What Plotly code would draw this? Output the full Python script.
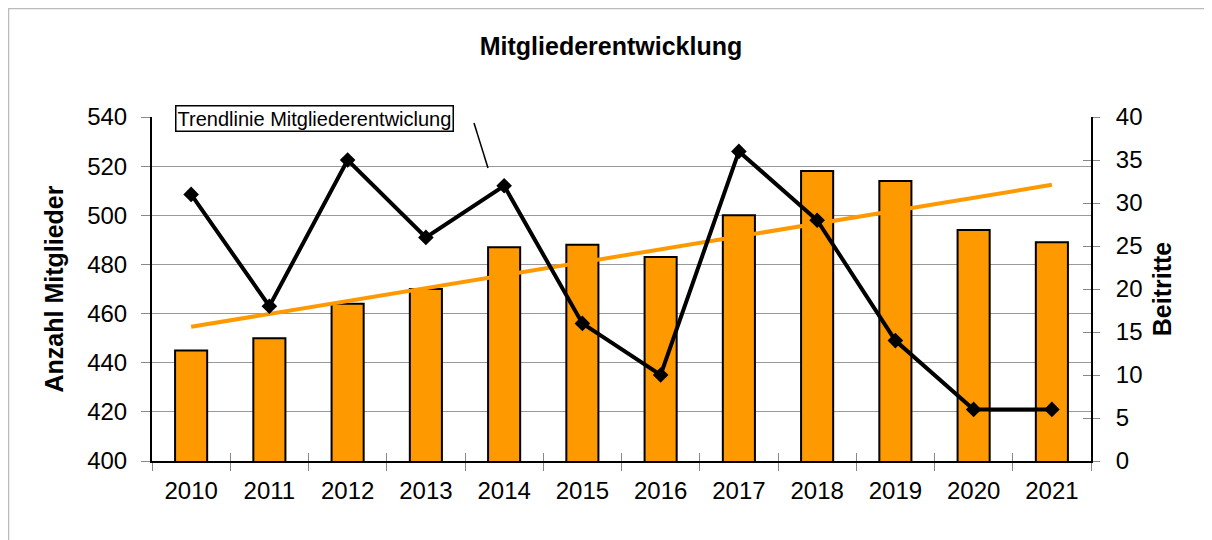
import plotly.graph_objects as go

years = ["2010", "2011", "2012", "2013", "2014", "2015", "2016", "2017", "2018", "2019", "2020", "2021"]
mitglieder = [445, 450, 464, 470, 487, 488, 483, 500, 518, 514, 494, 489]
beitritte = [31, 18, 35, 26, 32, 16, 10, 36, 28, 14, 6, 6]
trend_years = ["2010", "2021"]
trend_values = [454.6, 512.4]

left_ticks = [400, 420, 440, 460, 480, 500, 520, 540]
right_ticks = [0, 5, 10, 15, 20, 25, 30, 35, 40]

OFF = 8  # page body margin
W, H = 1212, 540
L, R, T, B = 152 - OFF, 1091 - OFF, 117 - OFF, 461 - OFF

def px(x):
    return (x - OFF - L) / (R - L)

def py(y):
    return (B - (y - OFF)) / (B - T)

fig = go.Figure()
fig.add_trace(go.Bar(
    x=years, y=mitglieder, name="Mitglieder",
    marker=dict(color="#FF9900", line=dict(color="black", width=2)),
    width=0.41, yaxis="y",
))
fig.add_trace(go.Scatter(
    x=trend_years, y=trend_values, mode="lines", name="Trend",
    line=dict(color="#FF9900", width=4), yaxis="y",
))
fig.add_trace(go.Scatter(
    x=years, y=beitritte, mode="lines+markers", name="Beitritte",
    line=dict(color="black", width=4),
    marker=dict(symbol="diamond", size=12, color="black"),
    yaxis="y2",
))
# helper trace so the inner-tick axes get drawn
fig.add_trace(go.Scatter(x=[None], y=[None], xaxis="x2", yaxis="y3",
                         showlegend=False, hoverinfo="skip"))

font_family = "Liberation Sans, Arial, sans-serif"
tick_gray = "#888"

fig.update_layout(
    width=W, height=H,
    margin=dict(l=L, r=W - R, t=T, b=H - B),
    paper_bgcolor="white", plot_bgcolor="white",
    showlegend=False,
    font=dict(family=font_family, color="black"),
    title=dict(text="<b>Mitgliederentwicklung</b>", x=(611 - OFF) / W, xanchor="center",
               y=1 - (46 - OFF) / H, yanchor="middle", font=dict(size=25, color="black")),
    xaxis=dict(
        type="category", categoryorder="array", categoryarray=years,
        tickson="boundaries", ticks="outside", ticklen=8, tickcolor=tick_gray,
        showline=True, linecolor="black", linewidth=2,
        tickfont=dict(size=24), showgrid=False, ticklabelstandoff=7,
        range=[-0.5, 11.5],
    ),
    xaxis2=dict(
        overlaying="x", side="bottom", range=[-0.5, 11.5], tick0=-0.5, dtick=1,
        ticks="inside", ticklen=8, tickcolor=tick_gray, showticklabels=False,
        showgrid=False, zeroline=False, showline=False,
    ),
    yaxis=dict(
        range=[400, 540], tickvals=left_ticks, ticks="outside", ticklen=9, tickcolor=tick_gray,
        showline=True, linecolor="black", linewidth=2,
        showgrid=True, gridcolor="#999", gridwidth=1,
        tickfont=dict(size=24), zeroline=False, ticklabelstandoff=9,
        title=dict(text="<b>Anzahl Mitglieder</b>", font=dict(size=25), standoff=16),
    ),
    yaxis2=dict(
        range=[0, 40], tickvals=right_ticks, overlaying="y", side="right",
        ticks="outside", ticklen=7, tickcolor=tick_gray,
        showline=True, linecolor="black", linewidth=2, showgrid=False,
        tickfont=dict(size=24), zeroline=False, ticklabelstandoff=11,
        title=dict(text="<b>Beitritte</b>", font=dict(size=25), standoff=12),
    ),
    yaxis3=dict(
        range=[0, 40], tickvals=right_ticks, overlaying="y", side="right",
        ticks="inside", ticklen=8, tickcolor=tick_gray, showticklabels=False,
        showgrid=False, zeroline=False, showline=False,
    ),
    shapes=[
        dict(type="rect", xref="paper", yref="paper",
             x0=px(8.5), x1=px(1400), y0=py(8.5), y1=py(700),
             line=dict(color="#bbb", width=1.5), fillcolor="rgba(0,0,0,0)", layer="below"),
        dict(type="line", xref="paper", yref="paper",
             x0=px(474), y0=py(123), x1=px(488), y1=py(168),
             line=dict(color="black", width=1.5)),
    ],
    annotations=[
        dict(text="Trendlinie Mitgliederentwiclung", xref="paper", yref="paper",
             x=px(175), y=py(118), xanchor="left", yanchor="middle",
             showarrow=False, font=dict(size=20, color="black"),
             bgcolor="white", bordercolor="black", borderwidth=1.5, borderpad=1),
    ],
)

fig.write_html("out.html")
